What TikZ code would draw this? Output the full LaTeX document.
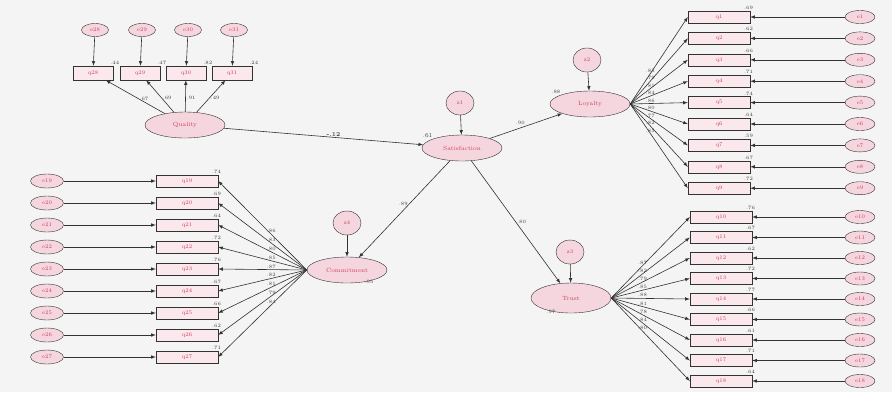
\documentclass[tikz,border=0pt]{standalone}
\usepackage{xcolor}
\usetikzlibrary{shapes.geometric,positioning}

\definecolor{bgcol}{RGB}{244,244,244}
\definecolor{latcol}{RGB}{246,214,222}
\definecolor{boxcol}{RGB}{250,232,236}
\definecolor{txtcol}{RGB}{205,60,95}
\definecolor{lncol}{RGB}{50,50,50}

\tikzset{
    >=latex,
    latent/.style={ellipse, draw=lncol, fill=latcol, minimum width=80pt, minimum height=26pt,
        inner sep=0pt, font=\fontsize{6}{7}\selectfont, text=txtcol},
    disturb/.style={ellipse, draw=lncol, fill=latcol, minimum width=28pt, minimum height=24pt,
        inner sep=0pt, font=\fontsize{5.5}{6}\selectfont, text=txtcol},
    err/.style={ellipse, draw=lncol, fill=latcol, minimum width=30pt, minimum height=13pt,
        inner sep=0pt, font=\fontsize{5.5}{6}\selectfont, text=txtcol},
    item/.style={rectangle, draw=lncol, fill=boxcol, minimum width=62pt, minimum height=12pt,
        inner sep=0pt, font=\fontsize{5.5}{6}\selectfont, text=txtcol},
    smallitem/.style={item, minimum width=40pt, minimum height=14pt},
    num/.style={font=\fontsize{5}{6}\selectfont, text=black!75, inner sep=1pt},
    arr/.style={->, draw=lncol, line width=0.6pt}
}

\begin{document}
\begin{tikzpicture}[x=1pt, y=-1pt]
    \useasboundingbox (0,0) rectangle (892,392);
    \fill[bgcol] (0,0) rectangle (892,392);

    % =====================
    % Structural part
    % =====================
    \node[latent] (TL) at (185,125) {Quality};
    \node[latent] (C)  at (462,148) {Satisfaction};
    \node[latent] (TR) at (590,104) {Loyalty};
    \node[latent, minimum height=30pt] (BR) at (571,298) {Trust};
    \node[latent] (L)  at (347,270) {Commitment};

    \node[disturb] (z1) at (460,103) {z1};
    \node[disturb] (z2) at (587,60)  {z2};
    \node[disturb] (z3) at (570,252) {z3};
    \node[disturb] (z4) at (347,223) {z4};

    \draw[arr] (z1) -- (C);
    \draw[arr] (z2) -- (TR);
    \draw[arr] (z3) -- (BR);
    \draw[arr] (z4) -- (L);

    \draw[arr] (TL) -- node[num, pos=0.55, above, font=\fontsize{6}{7}\selectfont\bfseries] {-.12} (C);
    \draw[arr] (C) -- node[num, pos=0.5, above left] {.90} (TR);
    \draw[arr] (C) -- node[num, pos=0.45, left] {.89} (L);
    \draw[arr] (C) -- node[num, pos=0.5, right] {.80} (BR);

    \node[num, anchor=south east, font=\fontsize{6}{7}\selectfont] at (C.north west) {.61};
    \node[num, anchor=south east] at (TR.north west) {.88};
    \node[num, anchor=north west] at ([xshift=-12pt]L.south east) {.95};
    \node[num, anchor=north east] at ([xshift=14pt]BR.south west) {.97};

    % =====================
    % Top left indicators
    % =====================
    \foreach \i/\x/\l/\r in {28/93/.67/.44, 29/140/.69/.47, 30/186/.91/.82, 31/232/.49/.24} {
        \node[smallitem] (q\i) at (\x,73) {q\i};
        \node[err, minimum width=27pt] (e\i) at (\x+2,30) {e\i};
        \draw[arr] (e\i) -- (q\i);
        \draw[arr] (TL) -- node[num, pos=0.45, right] {\l} (q\i);
        \node[num, anchor=south west] at ([xshift=-4pt]q\i.north east) {\r};
    }

    % =====================
    % Top right indicators
    % =====================
    \foreach \i/\y/\l/\r in {1/17/.83/.69, 2/38.4/.79/.62, 3/59.8/.81/.66, 4/81.2/.84/.71, 5/102.6/.86/.74,
                            6/124/.80/.64, 7/145.4/.77/.59, 8/166.8/.82/.67, 9/188.2/.85/.72} {
        \node[item] (q\i) at (719,\y) {q\i};
        \node[err] (e\i) at (860,\y) {e\i};
        \draw[arr] (e\i) -- (q\i);
        \draw[arr] (TR.east) -- node[num, pos=0.35, above] {\l} (q\i.west);
        \node[num, anchor=south east] at ([xshift=4pt]q\i.north east) {\r};
    }

    % =====================
    % Bottom right indicators
    % =====================
    \foreach \i/\y/\l/\r in {10/217/.87/.76, 11/237.5/.82/.67, 12/258/.79/.62, 13/278.5/.85/.72, 14/299/.88/.77,
                             15/319.5/.81/.66, 16/340/.78/.61, 17/360.5/.84/.71, 18/381/.80/.64} {
        \node[item] (q\i) at (721,\y) {q\i};
        \node[err] (e\i) at (860,\y) {e\i};
        \draw[arr] (e\i) -- (q\i);
        \draw[arr] (BR.east) -- node[num, pos=0.4, above] {\l} (q\i.west);
        \node[num, anchor=south east] at ([xshift=4pt]q\i.north east) {\r};
    }

    % =====================
    % Left indicators
    % =====================
    \foreach \i/\y/\l/\r in {19/181/.86/.74, 20/203/.83/.69, 21/225/.80/.64, 22/247/.85/.72, 23/269/.87/.76,
                             24/291/.82/.67, 25/313/.81/.66, 26/335/.79/.62, 27/357/.84/.71} {
        \node[item] (q\i) at (187,\y) {q\i};
        \node[err, minimum width=33pt, minimum height=14pt] (e\i) at (47,\y) {e\i};
        \draw[arr] (e\i) -- (q\i);
        \draw[arr] (L.west) -- node[num, pos=0.4, above] {\l} (q\i.east);
        \node[num, anchor=south east] at ([xshift=4pt]q\i.north east) {\r};
    }
\end{tikzpicture}
\end{document}
